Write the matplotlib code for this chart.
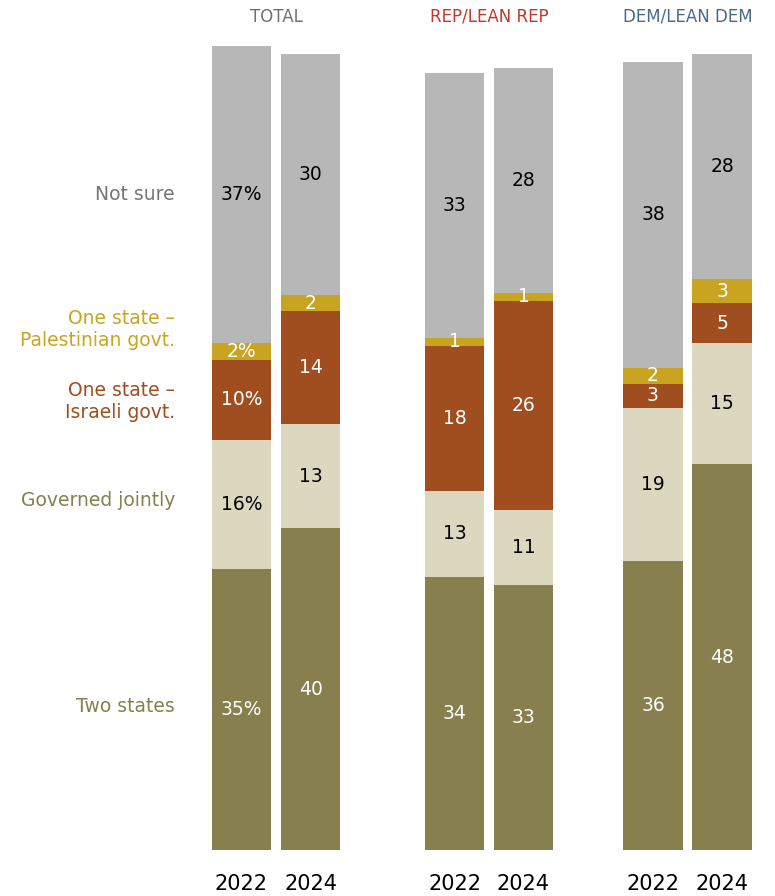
import numpy as np
import matplotlib
matplotlib.use("Agg")
import matplotlib.pyplot as plt

plt.rcParams['font.family'] = ['DejaVu Sans']

groups = ["TOTAL", "REP/LEAN REP", "DEM/LEAN DEM"]
years = ["2022", "2024"]
categories = ["Two states", "Governed jointly", "One state \u2013\nIsraeli govt.",
              "One state \u2013\nPalestinian govt.", "Not sure"]

# values per bar (Total 22, Total 24, Rep 22, Rep 24, Dem 22, Dem 24)
two_states = [35, 40, 34, 33, 36, 48]
governed_jointly = [16, 13, 13, 11, 19, 15]
israeli_govt = [10, 14, 18, 26, 3, 5]
palestinian_govt = [2, 2, 1, 1, 2, 3]
not_sure = [37, 30, 33, 28, 38, 28]

# segment heights as drawn in the original (Rep "governed jointly" drawn shorter than its label)
governed_jointly_drawn = [16, 13, 10.7, 9.3, 19, 15]

series = [two_states, governed_jointly_drawn, israeli_govt, palestinian_govt, not_sure]
labels = [two_states, governed_jointly, israeli_govt, palestinian_govt, not_sure]
seg_colors = ["#87804e", "#dcd8c0", "#a04e1f", "#c9a420", "#b7b7b7"]
text_colors = ["white", "black", "white", "white", "black"]
cat_colors = ["#87804e", "#87804e", "#a04e1f", "#c9a420", "#757575"]
group_colors = ["#707070", "#c0392b", "#4a6a8a"]

# layout (x in pixel-like units, y in percent)
W, H = 775, 896
group_centers = [276, 489, 687.5]
half_step = 34.5
bar_w = 59.5
px_per_unit = 8.04
base_px = 850

fig = plt.figure(figsize=(W / 100, H / 100), dpi=100)
ax = fig.add_axes([0, (H - base_px) / H, 1, 100 * px_per_unit / H])
ax.set_xlim(0, W)
ax.set_ylim(0, 100)
ax.axis("off")

xs = []
for gc in group_centers:
    xs += [gc - half_step, gc + half_step]
xs = np.array(xs)

bottom = np.zeros(len(xs))
for i, (vals, labs) in enumerate(zip(series, labels)):
    vals = np.array(vals, dtype=float)
    ax.bar(xs, vals, bottom=bottom, width=bar_w, color=seg_colors[i], linewidth=0)
    for j, x in enumerate(xs):
        txt = str(labs[j])
        if j == 0:
            txt += "%"
        ax.text(x, bottom[j] + vals[j] / 2, txt, ha="center", va="center",
                fontsize=13.5, color=text_colors[i])
    bottom += vals

def ypx(p):
    return (base_px - p) / px_per_unit

# category labels on the left
cat_y = [706, 501, 401, 330, 195]
for i, cat in enumerate(categories):
    ax.text(175, ypx(cat_y[i]), cat, ha="right", va="center", fontsize=13.5,
            color=cat_colors[i], linespacing=1.2)

for g, gc in enumerate(group_centers):
    ax.text(gc, ypx(17), groups[g], ha="center", va="center", fontsize=12,
            color=group_colors[g])
    for k in range(2):
        ax.text(gc + (k * 2 - 1) * half_step, ypx(884), years[k], ha="center",
                va="center", fontsize=15, color="black", clip_on=False)

fig.savefig("out.png", dpi=100)
